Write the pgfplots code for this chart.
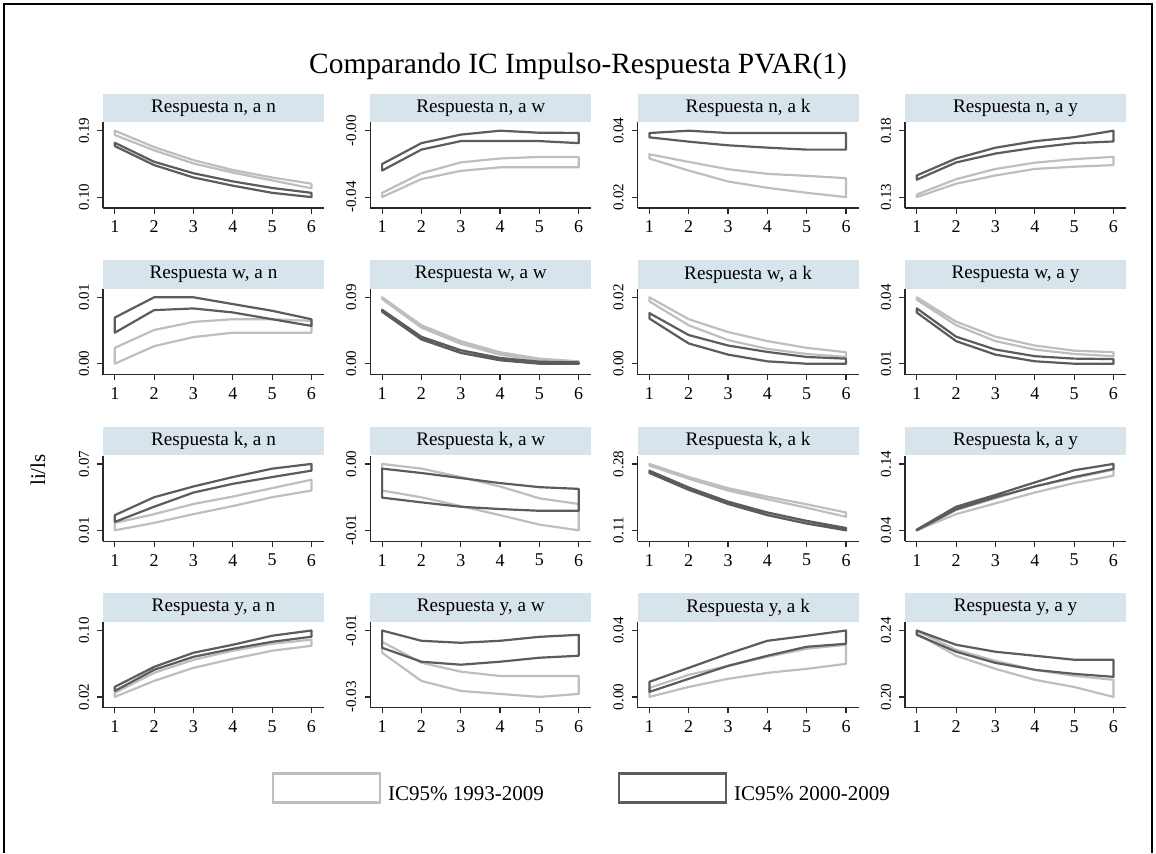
\documentclass[border=0pt]{standalone}
\usepackage{pgfplots}
\pgfplotsset{compat=1.18}
\usepackage{fontspec}
\setmainfont{Liberation Serif}
\definecolor{boxbg}{RGB}{216,228,236}
\definecolor{ltgray}{RGB}{190,190,190}
\definecolor{dkgray}{RGB}{92,92,92}
\definecolor{axgray}{RGB}{40,40,40}
\pgfplotsset{
  panel/.style={
    width=110.5pt, height=42.75pt, scale only axis, anchor=north west,
    xmin=0.7, xmax=6.32, xtick={1,2,3,4,5,6},
    scaled y ticks=false, scaled x ticks=false,
    axis x line*=bottom, axis y line*=left,
    axis line style={line width=0.6pt, color=axgray, -},
    every tick/.style={line width=0.6pt, color=axgray},
    tick align=outside, major tick length=2.8pt,
    clip=false,
    /pgf/number format/assume math mode=true,
    xticklabel style={font=\fontsize{9}{10}\selectfont, inner sep=3.5pt},
    yticklabel style={font=\fontsize{7.5}{8}\selectfont, rotate=90, anchor=south, inner sep=4pt},
  },
  lt/.style={color=ltgray, line width=1.1pt, line join=round, line cap=round, mark=none},
  dk/.style={color=dkgray, line width=1.1pt, line join=round, line cap=round, mark=none},
}
\tikzset{titlebox/.style={anchor=south, fill=boxbg, minimum width=110.5pt, minimum height=14.25pt, inner sep=0pt, font=\fontsize{9.6}{10}\selectfont}}
\begin{document}
\begin{tikzpicture}
\useasboundingbox (0,0) rectangle (578pt,426.5pt);
\draw[line width=0.75pt] (2pt,0) -- (2pt,424.5pt) -- (576pt,424.5pt) -- (576pt,0);
\node[anchor=base, font=\fontsize{14.7}{17}\selectfont] at (289pt,389.5pt) {Comparando IC Impulso-Respuesta PVAR(1)};
\node[rotate=90, font=\fontsize{10.5}{12}\selectfont] at (19pt,191.5pt) {li/ls};

% ---------- Row 1 ----------
\begin{axis}[panel, at={(51.5pt,365.25pt)}, ymin=0.08524, ymax=0.20112, ytick={0.100,0.190}, yticklabels={0.10,0.19}]
\addplot[lt] coordinates {(1,0.1842)(2,0.1634)(3,0.1456)(4,0.1332)(5,0.1226)(6,0.1120)(6,0.1182)(5,0.1266)(4,0.1368)(3,0.1501)(2,0.1678)(1,0.1900)(1,0.1842)};
\addplot[dk] coordinates {(1,0.1691)(2,0.1434)(3,0.1266)(4,0.1155)(5,0.1058)(6,0.1000)(6,0.1058)(5,0.1124)(4,0.1213)(3,0.1323)(2,0.1479)(1,0.1736)(1,0.1691)};
\node[titlebox] at (rel axis cs:0.5,1) {Respuesta n, a n};
\end{axis}
\begin{axis}[panel, at={(185.15pt,365.25pt)}, ymin=-0.0464, ymax=0.00382, ytick={-0.040,-0.001}, yticklabels={-0.04,-0.00}]
\addplot[lt] coordinates {(1,-0.0400)(2,-0.0294)(3,-0.0246)(4,-0.0225)(5,-0.0225)(6,-0.0225)(6,-0.0164)(5,-0.0164)(4,-0.0173)(3,-0.0196)(2,-0.0260)(1,-0.0375)(1,-0.0400)};
\addplot[dk] coordinates {(1,-0.0244)(2,-0.0121)(3,-0.0071)(4,-0.0071)(5,-0.0071)(6,-0.0083)(6,-0.0023)(5,-0.0022)(4,-0.0010)(3,-0.0033)(2,-0.0083)(1,-0.0206)(1,-0.0244)};
\node[titlebox] at (rel axis cs:0.5,1) {Respuesta n, a w};
\end{axis}
\begin{axis}[panel, at={(318.8pt,365.25pt)}, ymin=0.01672, ymax=0.04247, ytick={0.020,0.040}, yticklabels={0.02,0.04}]
\addplot[lt] coordinates {(1,0.0316)(2,0.0280)(3,0.0247)(4,0.0228)(5,0.0213)(6,0.0200)(6,0.0257)(5,0.0264)(4,0.0270)(3,0.0284)(2,0.0306)(1,0.0329)(1,0.0316)};
\addplot[dk] coordinates {(1,0.0380)(2,0.0367)(3,0.0356)(4,0.0349)(5,0.0343)(6,0.0343)(6,0.0393)(5,0.0393)(4,0.0393)(3,0.0393)(2,0.0400)(1,0.0393)(1,0.0380)};
\node[titlebox] at (rel axis cs:0.5,1) {Respuesta n, a k};
\end{axis}
\begin{axis}[panel, at={(452.5pt,365.25pt)}, ymin=0.1218, ymax=0.18618, ytick={0.130,0.180}, yticklabels={0.13,0.18}]
\addplot[lt] coordinates {(1,0.1300)(2,0.1401)(3,0.1463)(4,0.1512)(5,0.1529)(6,0.1541)(6,0.1603)(5,0.1586)(4,0.1559)(3,0.1512)(2,0.1435)(1,0.1320)(1,0.1300)};
\addplot[dk] coordinates {(1,0.1431)(2,0.1561)(3,0.1628)(4,0.1672)(5,0.1706)(6,0.1719)(6,0.1800)(5,0.1751)(4,0.1721)(3,0.1672)(2,0.1591)(1,0.1463)(1,0.1431)};
\node[titlebox] at (rel axis cs:0.5,1) {Respuesta n, a y};
\end{axis}

% ---------- Row 2 ----------
\begin{axis}[panel, at={(51.5pt,281.95pt)}, ymin=-0.00164, ymax=0.011235, ytick={0,0.010}, yticklabels={0.00,0.01}]
\addplot[lt] coordinates {(1,0)(2,0.00264)(3,0.00401)(4,0.00467)(5,0.00467)(6,0.00467)(6,0.00645)(5,0.00670)(4,0.00670)(3,0.00629)(2,0.00508)(1,0.00239)(1,0)};
\addplot[dk] coordinates {(1,0.00467)(2,0.00807)(3,0.00832)(4,0.00772)(5,0.00670)(6,0.00569)(6,0.00670)(5,0.00797)(4,0.00898)(3,0.0100)(2,0.0100)(1,0.00695)(1,0.00467)};
\node[titlebox] at (rel axis cs:0.5,1) {Respuesta w, a n};
\end{axis}
\begin{axis}[panel, at={(185.15pt,281.95pt)}, ymin=-0.01476, ymax=0.10112, ytick={0,0.090}, yticklabels={0.00,0.09}]
\addplot[lt] coordinates {(1,0.0877)(2,0.0489)(3,0.0270)(4,0.0123)(5,0.0046)(6,0.0009)(6,0.0032)(5,0.0069)(4,0.0155)(3,0.0306)(2,0.0521)(1,0.0900)(1,0.0877)};
\addplot[dk] coordinates {(1,0.0704)(2,0.0329)(3,0.0146)(4,0.0046)(5,0)(6,0)(6,0.0018)(5,0.0027)(4,0.0078)(3,0.0183)(2,0.0365)(1,0.0731)(1,0.0704)};
\node[titlebox] at (rel axis cs:0.5,1) {Respuesta w, a w};
\end{axis}
\begin{axis}[panel, at={(318.8pt,281.95pt)}, ymin=-0.00328, ymax=0.02247, ytick={0,0.020}, yticklabels={0.00,0.02}]
\addplot[lt] coordinates {(1,0.01878)(2,0.01157)(3,0.00711)(4,0.00447)(5,0.00294)(6,0.00203)(6,0.00345)(5,0.00477)(4,0.00680)(3,0.00954)(2,0.0134)(1,0.0200)(1,0.01878)};
\addplot[dk] coordinates {(1,0.0136)(2,0.00609)(3,0.00274)(4,0.00071)(5,0)(6,0)(6,0.00152)(5,0.00203)(4,0.00355)(3,0.00548)(2,0.00863)(1,0.01523)(1,0.0136)};
\node[titlebox] at (rel axis cs:0.5,1) {Respuesta w, a k};
\end{axis}
\begin{axis}[panel, at={(452.5pt,281.95pt)}, ymin=0.00508, ymax=0.043705, ytick={0.010,0.040}, yticklabels={0.01,0.04}]
\addplot[lt] coordinates {(1,0.0389)(2,0.0274)(3,0.0202)(4,0.0164)(5,0.0144)(6,0.0134)(6,0.0152)(5,0.0159)(4,0.0182)(3,0.0222)(2,0.0290)(1,0.0400)(1,0.0389)};
\addplot[dk] coordinates {(1,0.0331)(2,0.0202)(3,0.0141)(4,0.0111)(5,0.0100)(6,0.0100)(6,0.0121)(5,0.0123)(4,0.0134)(3,0.0164)(2,0.0222)(1,0.0350)(1,0.0331)};
\node[titlebox] at (rel axis cs:0.5,1) {Respuesta w, a y};
\end{axis}

% ---------- Row 3 ----------
\begin{axis}[panel, at={(51.5pt,198.65pt)}, ymin=0.00016, ymax=0.07741, ytick={0.010,0.070}, yticklabels={0.01,0.07}]
\addplot[lt] coordinates {(1,0.0100)(2,0.0167)(3,0.0246)(4,0.0319)(5,0.0399)(6,0.0459)(6,0.0557)(5,0.0481)(4,0.0405)(3,0.0338)(2,0.0246)(1,0.0167)(1,0.0100)};
\addplot[dk] coordinates {(1,0.0176)(2,0.0313)(3,0.0441)(4,0.0520)(5,0.0581)(6,0.0639)(6,0.0700)(5,0.0657)(4,0.0581)(3,0.0496)(2,0.0399)(1,0.0237)(1,0.0176)};
\node[titlebox] at (rel axis cs:0.5,1) {Respuesta k, a n};
\end{axis}
\begin{axis}[panel, at={(185.15pt,198.65pt)}, ymin=-0.01164, ymax=0.001235, ytick={-0.010,0}, yticklabels={-0.01,0.00}]
\addplot[lt] coordinates {(1,-0.00401)(2,-0.00503)(3,-0.00635)(4,-0.00772)(5,-0.00914)(6,-0.0100)(6,-0.00604)(5,-0.00518)(4,-0.00340)(3,-0.00198)(2,-0.00071)(1,0.0000)(1,-0.00401)};
\addplot[dk] coordinates {(1,-0.00508)(2,-0.00579)(3,-0.00645)(4,-0.00680)(5,-0.00706)(6,-0.00706)(6,-0.00376)(5,-0.00350)(4,-0.00289)(3,-0.00213)(2,-0.00137)(1,-0.00071)(1,-0.00508)};
\node[titlebox] at (rel axis cs:0.5,1) {Respuesta k, a w};
\end{axis}
\begin{axis}[panel, at={(318.8pt,198.65pt)}, ymin=0.08212, ymax=0.3010, ytick={0.110,0.280}, yticklabels={0.11,0.28}]
\addplot[lt] coordinates {(1,0.2757)(2,0.2420)(3,0.2118)(4,0.1894)(5,0.1678)(6,0.1445)(6,0.1557)(5,0.1765)(4,0.1963)(3,0.2179)(2,0.2464)(1,0.2800)(1,0.2757)};
\addplot[dk] coordinates {(1,0.2567)(2,0.2136)(3,0.1773)(4,0.1488)(5,0.1273)(6,0.1100)(6,0.1160)(5,0.1342)(4,0.1557)(3,0.1834)(2,0.2196)(1,0.2627)(1,0.2567)};
\node[titlebox] at (rel axis cs:0.5,1) {Respuesta k, a k};
\end{axis}
\begin{axis}[panel, at={(452.5pt,198.65pt)}, ymin=0.0236, ymax=0.15235, ytick={0.040,0.140}, yticklabels={0.04,0.14}]
\addplot[lt] coordinates {(1,0.0400)(2,0.0644)(3,0.0806)(4,0.0969)(5,0.1111)(6,0.1222)(6,0.1314)(5,0.1187)(4,0.1060)(3,0.0882)(2,0.0705)(1,0.0410)(1,0.0400)};
\addplot[dk] coordinates {(1,0.0400)(2,0.0715)(3,0.0897)(4,0.1060)(5,0.1202)(6,0.1324)(6,0.1400)(5,0.1304)(4,0.1121)(3,0.0933)(2,0.0755)(1,0.0410)(1,0.0400)};
\node[titlebox] at (rel axis cs:0.5,1) {Respuesta k, a y};
\end{axis}

% ---------- Row 4 ----------
\begin{axis}[panel, at={(51.5pt,115.35pt)}, ymin=0.00688, ymax=0.10988, ytick={0.020,0.100}, yticklabels={0.02,0.10}]
\addplot[lt] coordinates {(1,0.0200)(2,0.0393)(3,0.0550)(4,0.0659)(5,0.0756)(6,0.0816)(6,0.0889)(5,0.0840)(4,0.0756)(3,0.0647)(2,0.0490)(1,0.0248)(1,0.0200)};
\addplot[dk] coordinates {(1,0.0272)(2,0.0526)(3,0.0683)(4,0.0780)(5,0.0864)(6,0.0925)(6,0.1000)(5,0.0937)(4,0.0828)(3,0.0732)(2,0.0562)(1,0.0321)(1,0.0272)};
\node[titlebox] at (rel axis cs:0.5,1) {Respuesta y, a n};
\end{axis}
\begin{axis}[panel, at={(185.15pt,115.35pt)}, ymin=-0.03328, ymax=-0.00753, ytick={-0.030,-0.010}, yticklabels={-0.03,-0.01}]
\addplot[lt] coordinates {(1,-0.0167)(2,-0.0252)(3,-0.0282)(4,-0.0291)(5,-0.0300)(6,-0.0291)(6,-0.0237)(5,-0.0237)(4,-0.0237)(3,-0.0224)(2,-0.0197)(1,-0.0134)(1,-0.0167)};
\addplot[dk] coordinates {(1,-0.0152)(2,-0.0194)(3,-0.0203)(4,-0.0194)(5,-0.0182)(6,-0.0176)(6,-0.0113)(5,-0.0119)(4,-0.0131)(3,-0.0137)(2,-0.0131)(1,-0.0100)(1,-0.0152)};
\node[titlebox] at (rel axis cs:0.5,1) {Respuesta y, a w};
\end{axis}
\begin{axis}[panel, at={(318.8pt,115.35pt)}, ymin=-0.00656, ymax=0.04494, ytick={0,0.040}, yticklabels={0.00,0.04}]
\addplot[lt] coordinates {(1,0.0000)(2,0.0060)(3,0.0109)(4,0.0145)(5,0.0169)(6,0.0199)(6,0.0314)(5,0.0290)(4,0.0242)(3,0.0187)(2,0.0133)(1,0.0054)(1,0.0000)};
\addplot[dk] coordinates {(1,0.0030)(2,0.0109)(3,0.0187)(4,0.0248)(5,0.0302)(6,0.0320)(6,0.0400)(5,0.0368)(4,0.0338)(3,0.0260)(2,0.0175)(1,0.0091)(1,0.0030)};
\node[titlebox] at (rel axis cs:0.5,1) {Respuesta y, a k};
\end{axis}
\begin{axis}[panel, at={(452.5pt,115.35pt)}, ymin=0.19344, ymax=0.24494, ytick={0.200,0.240}, yticklabels={0.20,0.24}]
\addplot[lt] coordinates {(1,0.2380)(2,0.2248)(3,0.2169)(4,0.2103)(5,0.2060)(6,0.2000)(6,0.2103)(5,0.2127)(4,0.2163)(3,0.2217)(2,0.2284)(1,0.2398)(1,0.2380)};
\addplot[dk] coordinates {(1,0.2374)(2,0.2272)(3,0.2205)(4,0.2163)(5,0.2139)(6,0.2121)(6,0.2224)(5,0.2224)(4,0.2248)(3,0.2272)(2,0.2314)(1,0.2400)(1,0.2374)};
\node[titlebox] at (rel axis cs:0.5,1) {Respuesta y, a y};
\end{axis}

% ---------- Legend ----------
\begin{axis}[hide axis, scale only axis, width=1pt, height=1pt, anchor=center, at={(136.5pt,31.5pt)},
  xmin=0, xmax=1, ymin=0, ymax=1,
  legend columns=2,
  legend image code/.code={\draw[#1] (0pt,-3.75pt) rectangle (53.5pt,10.75pt);},
  legend style={at={(0,0.5)}, anchor=west, draw=none, fill=none, inner sep=0pt, outer sep=0pt,
    font=\fontsize{10.5}{12}\selectfont,
    /tikz/every odd column/.append style={column sep=1.5pt},
    /tikz/every even column/.append style={column sep=35pt}},
  legend cell align=left]
\addlegendimage{color=ltgray, line width=1.1pt}
\addlegendentry{IC95\% 1993-2009}
\addlegendimage{color=dkgray, line width=1.1pt}
\addlegendentry{IC95\% 2000-2009}
\end{axis}
\end{tikzpicture}
\end{document}
